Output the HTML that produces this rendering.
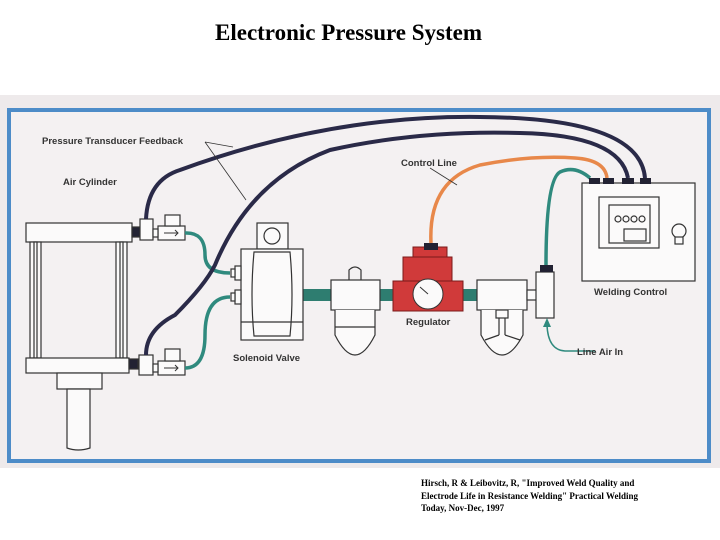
<!DOCTYPE html>
<html><head><style>
body{margin:0;width:720px;height:540px;background:#fff;position:relative;overflow:hidden}
.t{position:absolute;left:215px;top:20px;white-space:nowrap;font:bold 23px "Liberation Serif",serif}
.c{position:absolute;left:421px;top:477px;font:bold 9px/12.5px "Liberation Serif",serif}
</style></head><body>
<div class="t">Electronic Pressure System</div>
<svg width="720" height="540" style="position:absolute;left:0;top:0" font-family="Liberation Sans, sans-serif" font-weight="bold" font-size="9.5">
<rect x="0" y="95" width="720" height="373" fill="#eeeaeb"/>
<rect x="9" y="110" width="700" height="351" fill="#f4f1f2" stroke="#4d8cc8" stroke-width="4"/>
<g fill="#fbfafa" stroke="#333" stroke-width="1.2">
<rect x="26" y="223" width="106" height="19"/>
<rect x="30" y="242" width="11" height="116"/><rect x="34" y="242" width="3" height="116"/>
<rect x="116" y="242" width="11" height="116"/><rect x="120" y="242" width="3" height="116"/>
<rect x="26" y="358" width="103" height="15"/>
<rect x="57" y="373" width="45" height="16"/>
<path d="M67 389 V448 Q78 452 90 448 V389 Z"/>
<rect x="132" y="227" width="8" height="10" fill="#223"/>
<rect x="140" y="219" width="13" height="21"/>
<rect x="158" y="226" width="27" height="14"/><rect x="165" y="215" width="15" height="11"/><rect x="153" y="229" width="5" height="8"/>
<rect x="129" y="359" width="9" height="10" fill="#223"/>
<rect x="139" y="355" width="14" height="20"/>
<rect x="158" y="361" width="27" height="14"/><rect x="165" y="349" width="15" height="12"/><rect x="153" y="364" width="5" height="8"/>
</g>
<g stroke="#333" stroke-width="1" fill="none"><path d="M164 233h14m-3-3l3 3-3 3M164 368h14m-3-3l3 3-3 3"/></g>
<g stroke="#2f8a7e" stroke-width="3.5" fill="none">
<path d="M185 233 Q205 232 205 255 Q205 273 230 273"/>
<path d="M185 368 Q205 368 205 335 Q205 297 230 297"/>
<path d="M546 265 Q546 180 560 172 Q575 165 590 178"/>
</g>
<rect x="303" y="289" width="30" height="12" fill="#2e7d70"/>
<rect x="380" y="289" width="14" height="12" fill="#2e7d70"/>
<rect x="463" y="289" width="14" height="12" fill="#2e7d70"/>
<g fill="#fbfafa" stroke="#333" stroke-width="1.2">
<rect x="257" y="223" width="31" height="26"/><circle cx="272" cy="236" r="8"/>
<rect x="241" y="249" width="62" height="91"/>
<path d="M254 252 Q250 295 254 336 H290 Q294 295 290 252 Z"/>
<line x1="241" y1="322" x2="303" y2="322"/>
<rect x="235" y="266" width="6" height="14"/><rect x="231" y="269" width="4" height="8"/>
<rect x="235" y="290" width="6" height="14"/><rect x="231" y="293" width="4" height="8"/>
<rect x="331" y="280" width="49" height="30"/>
<path d="M335 310 V335 Q355 375 375 335 V310"/>
<line x1="335" y1="327" x2="375" y2="327"/>
<path d="M349 280 V270 Q355 264 361 270 V280" fill="none"/>
<rect x="477" y="280" width="50" height="30"/>
<path d="M481 310 V335 Q502 375 523 335 V310"/>
<rect x="496" y="310" width="12" height="8"/><path d="M499 318 V335 M505 318 V335 M485 340 L499 335 M505 335 L520 340" fill="none"/>
<rect x="527" y="290" width="10" height="10"/>
<rect x="536" y="272" width="18" height="46"/>
<rect x="582" y="183" width="113" height="98"/>
<rect x="599" y="197" width="60" height="51"/>
<rect x="609" y="205" width="41" height="38"/>
<circle cx="618" cy="219" r="3"/><circle cx="626" cy="219" r="3"/><circle cx="634" cy="219" r="3"/><circle cx="642" cy="219" r="3"/>
<rect x="624" y="229" width="22" height="12"/>
<circle cx="679" cy="231" r="7"/><rect x="675" y="237" width="8" height="7"/>
</g>
<g fill="#d03a3a" stroke="#7a1a1a" stroke-width="1">
<rect x="413" y="247" width="34" height="10"/>
<rect x="403" y="257" width="49" height="24"/>
<rect x="393" y="281" width="70" height="30"/>
</g>
<rect x="424" y="243" width="14" height="7" fill="#223"/>
<circle cx="428" cy="294" r="15" fill="#fbfafa" stroke="#333"/>
<line x1="428" y1="294" x2="420" y2="287" stroke="#333"/>
<g stroke="#2a2a48" stroke-width="4" fill="none">
<path d="M146 219 Q148 180 180 170 Q330 115 480 117 Q640 118 645 178"/>
<path d="M146 355 Q146 330 175 315 Q205 285 215 265 Q250 180 330 150 Q420 130 520 133 Q620 135 628 178"/>
</g>
<path d="M431 243 Q428 180 480 165 Q530 155 575 158 Q605 160 607 178" stroke="#e8884a" stroke-width="3.5" fill="none"/>
<rect x="540" y="265" width="13" height="7" fill="#223"/>
<g fill="#223"><rect x="589" y="178" width="11" height="6"/><rect x="603" y="178" width="11" height="6"/><rect x="622" y="178" width="12" height="6"/><rect x="640" y="178" width="11" height="6"/></g>
<g stroke="#333" stroke-width="0.8" fill="none">
<path d="M205 142 L233 147 M205 142 L246 200 M430 168 L457 185"/>
</g>
<path d="M595 351 H565 Q548 350 547 325" stroke="#2f8a7e" stroke-width="1.5" fill="none"/>
<path d="M543 327 L547 318 L551 327 Z" fill="#2f8a7e"/>
<g fill="#333">
<text x="42" y="144">Pressure Transducer Feedback</text>
<text x="63" y="185">Air Cylinder</text>
<text x="401" y="166">Control Line</text>
<text x="233" y="361">Solenoid Valve</text>
<text x="406" y="325">Regulator</text>
<text x="594" y="295">Welding Control</text>
<text x="577" y="355">Line Air In</text>
</g>
</svg>
<div class="c">Hirsch, R &amp; Leibovitz, R, "Improved Weld Quality and<br>Electrode Life in Resistance Welding" Practical Welding<br>Today, Nov-Dec, 1997</div>
</body></html>
